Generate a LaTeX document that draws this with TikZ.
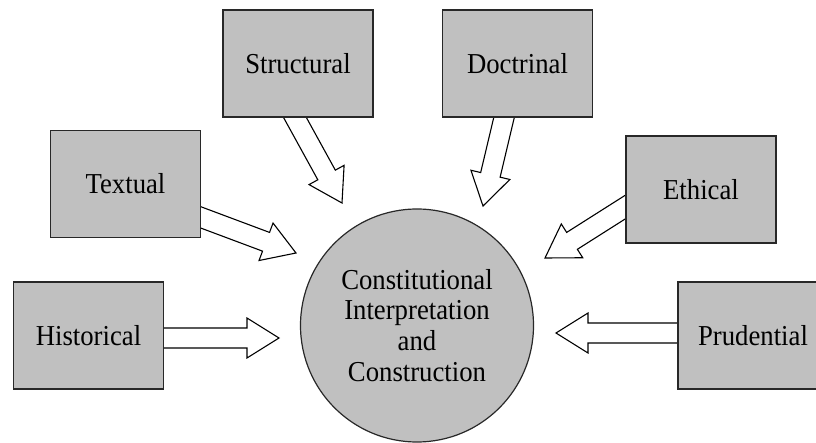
\documentclass[tikz,border=0pt]{standalone}
\usepackage{fontspec}
\setmainfont{Liberation Serif}[FakeStretch=0.925]
\usepackage{tikz}
\usetikzlibrary{calc,backgrounds,shapes}
\definecolor{boxgray}{RGB}{192,192,192}
\definecolor{edgegray}{RGB}{40,40,40}

% hollow block arrow from #1 (inside a box) to the tip #2
\newcommand{\blockarrow}[2]{%
  \coordinate (ba-s) at ($(#1)!-6bp!(#2)$);
  \coordinate (ba-h) at ($(#2)!32bp!(#1)$);
  \draw [fat arrow] ($(ba-s)!10bp!90:(#2)$) -- ($(ba-h)!10bp!90:(#2)$)
    -- ($(ba-h)!20bp!90:(#2)$) -- (#2) -- ($(ba-h)!20bp!-90:(#2)$)
    -- ($(ba-h)!10bp!-90:(#2)$) -- ($(ba-s)!10bp!-90:(#2)$) -- cycle;}

\begin{document}
\begin{tikzpicture}[line join=miter,
  source/.style={draw=edgegray,line width=1.2bp,fill=boxgray,rectangle,
    minimum width=150bp,minimum height=107bp,font=\fontsize{29}{31}\selectfont},
  hub/.style={draw=edgegray,line width=1.2bp,fill=boxgray,circle,inner sep=0pt,
    minimum size=233bp,align=center,font=\fontsize{29}{31}\selectfont},
  fat arrow/.style={draw=black,line width=1.1bp,fill=white}]
%%
\useasboundingbox (0bp,0bp) rectangle (816bp,443bp);
\node (hub) at (417.0bp,117.5bp) [hub] {Constitutional\\Interpretation\\and\\Construction};
  \node (structural) at (298.0bp,379.5bp) [source] {Structural};
  \node (doctrinal) at (517.5bp,379.5bp) [source] {Doctrinal};
  \node (textual) at (125.5bp,259.0bp) [source] {Textual};
  \node (ethical) at (701.0bp,253.5bp) [source] {Ethical};
  \node (historical) at (88.5bp,107.5bp) [source] {Historical};
  \node (prudential) at (753.0bp,107.5bp) [source] {Prudential};
%
  \coordinate (structural-out) at ([xshift=-3bp]structural.south);
  \coordinate (doctrinal-out) at ([xshift=-13.5bp]doctrinal.south);
  \coordinate (textual-out) at ([yshift=-33.5bp]textual.east);
  \coordinate (ethical-out) at ([yshift=-17.5bp]ethical.west);
  \coordinate (historical-out) at ([yshift=-2.5bp]historical.east);
  \coordinate (prudential-out) at ([yshift=2.5bp]prudential.west);
  \coordinate (structural-in) at (342.0bp,240.0bp);
  \coordinate (doctrinal-in) at (483.0bp,237.0bp);
  \coordinate (textual-in) at (296.0bp,190.0bp);
  \coordinate (ethical-in) at (545.0bp,185.0bp);
  \coordinate (historical-in) at (279.0bp,105.0bp);
  \coordinate (prudential-in) at (556.0bp,110.0bp);
%
\begin{scope}[on background layer]
  \foreach \src in {structural,doctrinal,textual,ethical,historical,prudential}
    \blockarrow{\src-out}{\src-in};
\end{scope}
%
\end{tikzpicture}
\end{document}
